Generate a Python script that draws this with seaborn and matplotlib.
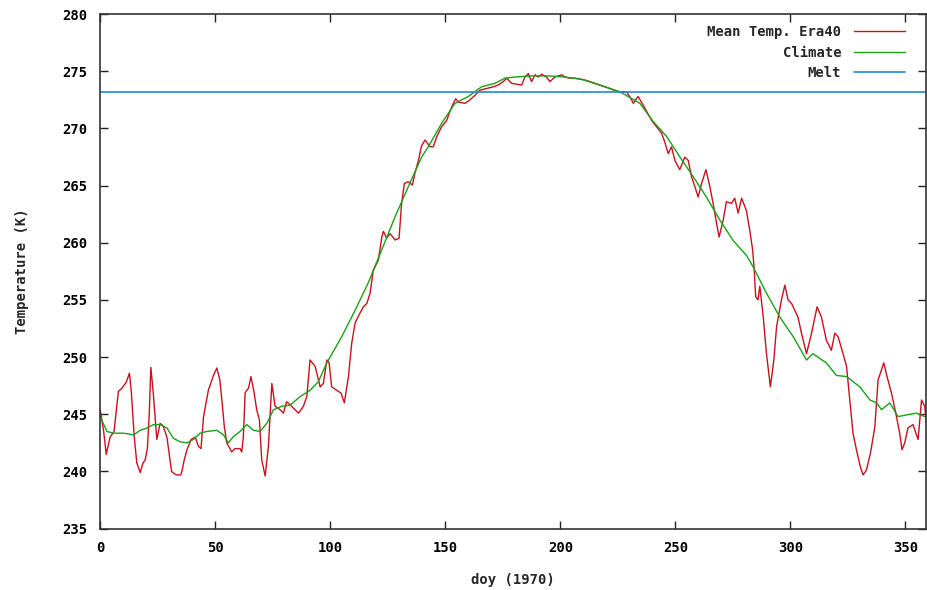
# Mean temperature Era40 vs climate, 1970
import matplotlib
matplotlib.use("Agg")
import matplotlib.pyplot as plt
import seaborn as sns
import pandas as pd

# ---- data ----
era40_day = [0, 1.5, 2.6, 4.3, 6, 7.9, 9.5, 11.3, 12.7, 13.5, 14.8, 15.9, 17.4, 18.5, 19.5,
             20.5, 21.3, 22, 23, 24.6, 26, 27.3, 29, 30, 31, 33, 35, 35.5, 36.5, 37.7,
             39.5, 41.3, 42.7, 43.8, 44.9, 47, 49.2, 50.7, 52, 53, 53.9, 55, 57.2, 58.5,
             60.8, 61.5, 62.2, 63, 64.5, 65.5, 66.8, 68, 69.2, 70.2, 71.7, 73.1, 74.6, 76,
             78.2, 79.6, 81, 83.2, 86.2, 88.3, 89.8, 91.2, 93.4, 95.6, 97, 98.5, 99.5,
             100.6, 102.8, 104.7, 106.1, 107.9, 109.3, 110.8, 112.9, 114.4, 115.9, 117.3,
             118.7, 120.9, 122.4, 123.1, 124.5, 126, 128.2, 129.9, 131, 132.2, 133.9,
             135.7, 136.8, 138.3, 139.7, 141.2, 143.4, 144.8, 146.3, 148.4, 150.6, 152,
             153.5, 154.5, 155.7, 158.6, 160.7, 162.9, 165.1, 168, 170.9, 173, 175.2,
             176.7, 178.8, 183.2, 184.6, 186.1, 187.5, 189, 190.4, 191.9, 194, 195.5,
             197.6, 200.6, 202, 204.2, 206.3, 209.2, 211.4, 217.2, 221.5, 225.2, 228.8,
             231, 231.7, 233.8, 236, 237.5, 239.7, 241.8, 244, 245.4, 246.9, 248.3, 249.8,
             251.9, 254.1, 255.6, 257, 258.5, 259.9, 261.4, 263.3, 265, 266.4, 267.9, 269,
             270.8, 272.2, 274.4, 275.8, 277.3, 278.8, 280.9, 282.4, 283.5, 284.2, 284.9,
             285.9, 286.7, 288.2, 289.6, 291.3, 292.8, 294, 296.1, 297.6, 299, 300.5,
             301.9, 303.3, 304.8, 307, 309.2, 311.6, 313.5, 315.6, 317.8, 319.3, 320.7,
             322.9, 324.4, 325.8, 327.2, 328.7, 330.4, 331.6, 333, 334.8, 336.7, 338.1,
             339.6, 340.6, 342, 344, 346.1, 347.5, 348.5, 349.7, 351.1, 353.3, 355.5, 357,
             358.4, 359.1]
era40_temp = [245.4, 243.5, 241.5, 243.0, 243.5, 247.0, 247.3, 247.8, 248.6, 247.0, 243.0,
              240.75, 239.9, 240.7, 241.0, 242.0, 245.0, 249.1, 247.0, 242.8, 244.2, 244.0,
              243.0, 241.5, 240.0, 239.7, 239.7, 240.0, 241.0, 241.9, 242.8, 243.0, 242.2,
              242.0, 244.8, 247.1, 248.4, 249.05, 248.0, 246.0, 244.0, 242.5, 241.7, 242.0,
              242.0, 241.7, 243.0, 246.9, 247.3, 248.3, 247.0, 245.4, 244.5, 241.0, 239.6,
              242.2, 247.7, 245.7, 245.4, 245.1, 246.1, 245.7, 245.1, 245.7, 246.55,
              249.75, 249.2, 247.4, 247.7, 249.75, 249.5, 247.4, 247.1, 246.85, 246.0,
              248.3, 251.2, 253.0, 253.85, 254.4, 254.7, 255.6, 257.6, 258.5, 260.5,
              261.0, 260.4, 260.8, 260.25, 260.4, 263.45, 265.2, 265.35, 265.05, 266.1,
              267.2, 268.5, 268.99, 268.4, 268.4, 269.3, 270.15, 270.7, 271.5, 272.2,
              272.6, 272.3, 272.2, 272.5, 272.9, 273.35, 273.5, 273.65, 273.8, 274.1,
              274.4, 273.95, 273.8, 274.5, 274.8, 274.1, 274.7, 274.5, 274.75, 274.5,
              274.1, 274.5, 274.7, 274.5, 274.4, 274.4, 274.3, 274.2, 273.8, 273.5, 273.2,
              273.2, 272.5, 272.2, 272.8, 272.05, 271.5, 270.7, 270.15, 269.6, 268.8,
              267.8, 268.4, 267.2, 266.4, 267.5, 267.2, 265.8, 264.9, 264.0, 265.2, 266.4,
              264.9, 263.45, 261.7, 260.5, 262.0, 263.6, 263.45, 263.9, 262.6, 263.9,
              262.8, 261.0, 259.5, 257.9, 255.3, 255.0, 256.2, 253.5, 250.3, 247.4, 249.75,
              252.7, 255.0, 256.3, 255.0, 254.7, 254.1, 253.5, 252.1, 250.3, 252.1, 254.4,
              253.5, 251.5, 250.6, 252.1, 251.8, 250.3, 249.2, 246.25, 243.35, 241.9,
              240.4, 239.7, 240.1, 241.6, 243.9, 248.0, 248.9, 249.5, 248.3, 246.8, 244.8,
              243.35, 241.9, 242.5, 243.8, 244.1, 242.8, 246.25, 245.7, 244.2]

climate_day = [0, 2.9, 5.8, 10.1, 14.5, 17.4, 20.3, 23.2, 26.1, 29, 31.8, 34.7, 37.7, 40.5,
               43.4, 46.3, 50.7, 53.6, 55.7, 57.9, 60.8, 63.7, 66.6, 69.5, 72.4, 75.3,
               78.9, 82.5, 86.9, 91.2, 94.8, 98.5, 105, 110.8, 116.5, 122.4, 128.2, 133.9,
               139.7, 142.6, 148.4, 154.2, 160, 165.8, 171.6, 175.9, 180.3, 187.5, 194.7,
               202, 209.2, 217, 226, 234.6, 240.4, 246.2, 252, 257.7, 263.5, 269.3, 275.1,
               280.9, 283.8, 289.6, 295.4, 301.2, 307, 309.8, 315.6, 320, 324.4, 330.2,
               334.6, 337.5, 339.6, 343.2, 346.8, 350.5, 354.8, 358.4]
climate_temp = [244.8, 243.5, 243.35, 243.35, 243.2, 243.6, 243.8, 244.1, 244.1, 243.8,
                242.9, 242.6, 242.5, 242.8, 243.35, 243.5, 243.6, 243.2, 242.5, 243.05,
                243.5, 244.1, 243.6, 243.5, 244.2, 245.4, 245.7, 245.8, 246.55, 247.1,
                247.85, 249.5, 251.8, 254.1, 256.5, 259.4, 262.3, 264.9, 267.5, 268.4,
                270.45, 272.2, 272.8, 273.65, 273.95, 274.4, 274.5, 274.6, 274.6, 274.5,
                274.3, 273.8, 273.2, 272.2, 270.6, 269.3, 267.5, 265.8, 264.0, 262.0,
                260.2, 258.9, 257.9, 255.6, 253.5, 251.8, 249.75, 250.3, 249.5, 248.4,
                248.3, 247.4, 246.25, 246.0, 245.4, 246.0, 244.8, 244.95, 245.1, 244.8]

melt_temp = 273.15

x_ticks = [0, 50, 100, 150, 200, 250, 300, 350]
y_ticks = [235, 240, 245, 250, 255, 260, 265, 270, 275, 280]

era40 = pd.DataFrame({"doy": era40_day, "temp": era40_temp})
climate = pd.DataFrame({"doy": climate_day, "temp": climate_temp})

# ---- style ----
sns.set_theme(style="ticks")
plt.rcParams["font.family"] = ["DejaVu Sans Mono"]
plt.rcParams["font.weight"] = "bold"
plt.rcParams["axes.labelweight"] = "bold"

fig, ax = plt.subplots(figsize=(9.28, 5.9), dpi=100)
fig.subplots_adjust(left=0.108, right=0.998, top=0.976, bottom=0.104)

sns.lineplot(data=era40, x="doy", y="temp", ax=ax, color="#c8101e", linewidth=1.0,
             label="Mean Temp. Era40")
sns.lineplot(data=climate, x="doy", y="temp", ax=ax, color="#19a019", linewidth=1.0,
             label="Climate")
ax.axhline(melt_temp, color="#1f8ad0", linewidth=1.2, label="Melt")

ax.set_xlim(0, 359)
ax.set_ylim(235, 280)
ax.set_xticks(x_ticks)
ax.set_yticks(y_ticks)
ax.tick_params(direction="in", length=6, width=1, top=True, right=True,
               labelsize=10, colors="#222222", labelcolor="black", pad=9)
for s in ax.spines.values():
    s.set_color("#333333")
    s.set_linewidth(1.2)

ax.set_xlabel("doy (1970)", fontsize=10, fontweight="bold", labelpad=13)
ax.set_ylabel("Temperature (K)", fontsize=10, fontweight="bold", labelpad=24)

# legend: text on the left, line sample on the right
ax.legend(loc="upper right", bbox_to_anchor=(0.988, 1.0), frameon=False,
          markerfirst=False, handlelength=3.7, handletextpad=0.9, labelspacing=0.45,
          borderaxespad=0.4, prop={"weight": "bold", "size": 10})

fig.savefig("out.png", dpi=100)
